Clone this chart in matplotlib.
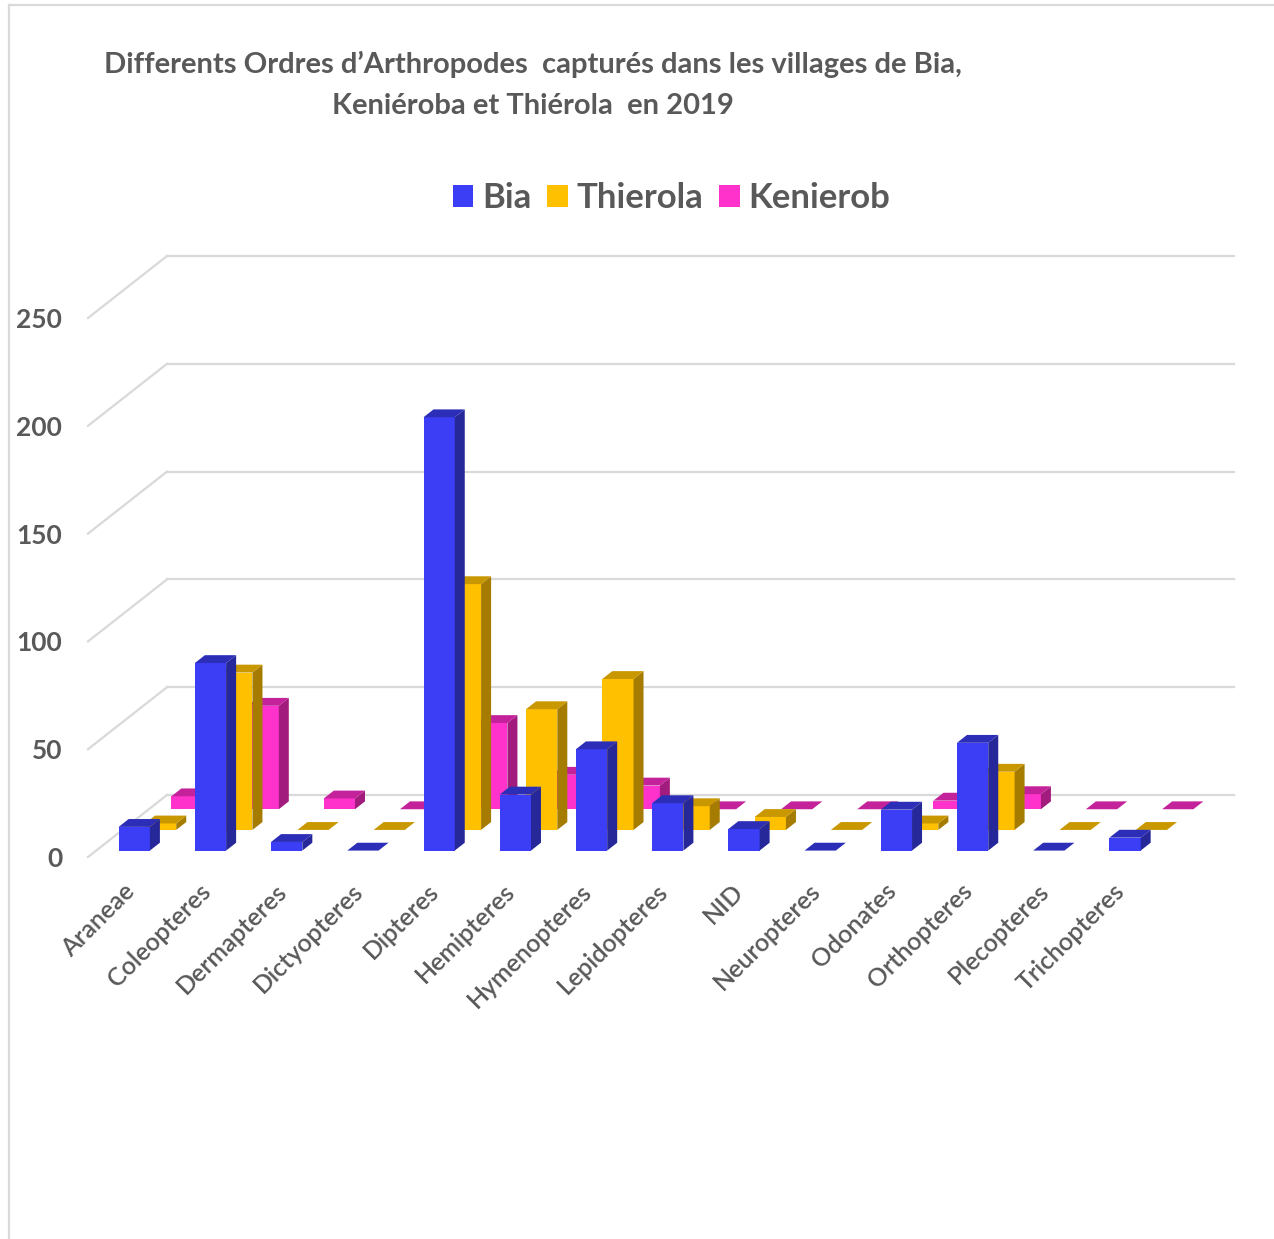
"""Arthropod orders captured in Bia, Kenieroba and Thierola (2019), Excel-style 3D columns."""
import matplotlib
matplotlib.use("Agg")
import matplotlib.pyplot as plt
from matplotlib.lines import Line2D
from matplotlib.patches import Patch, Polygon

plt.rcParams["font.family"] = ["Lato", "DejaVu Sans"]

categories = ["Araneae", "Coleopteres", "Dermapteres", "Dictyopteres", "Dipteres",
              "Hemipteres", "Hymenopteres", "Lepidopteres", "NID", "Neuropteres",
              "Odonates", "Orthopteres", "Plecopteres", "Trichopteres"]
bia = [11, 87, 4, 0, 201, 26, 47, 22, 10, 0, 19, 50, 0, 6]
thierola = [3, 73, 0, 0, 114, 56, 70, 11, 6, 0, 3, 27, 0, 0]
kenierob = [6, 48, 5, 0, 40, 16, 11, 0, 0, 0, 4, 7, 0, 0]
series_names = ["Bia", "Thierola", "Kenierob"]
yticks = [0, 50, 100, 150, 200, 250]

# front, top, side colours per series
colors = {
    "Bia": ("#3b3ef5", "#2c2eb8", "#262899"),
    "Thierola": ("#ffc000", "#c99700", "#a57c00"),
    "Kenierob": ("#ff33cc", "#c4229a", "#a11c7c"),
}
text_gray = "#595959"
grid_gray = "#d9d9d9"

# oblique projection: one series row shifts the drawing right/up by (DX, DY)
DX, DY = 0.3456, 9.59
BAR_W = 0.41
D0, DD = 0.31, 0.38  # bar front position inside its row, and bar depth
n = len(categories)
nrows = len(series_names)

fig = plt.figure(figsize=(12.74, 12.39), dpi=100)
ax = fig.add_axes([88 / 1274, (1239 - 857) / 1239, 1146 / 1274, 601 / 1239])
ax.set_xlim(0, n + nrows * DX)
ax.set_ylim(0, 250 + nrows * DY)
for s in ax.spines.values():
    s.set_visible(False)

# walls: back wall horizontal gridlines and left wall diagonals
for v in yticks:
    ax.plot([nrows * DX, n + nrows * DX], [v + nrows * DY] * 2,
            color=grid_gray, lw=1.6, zorder=1, clip_on=False)
    ax.plot([0, nrows * DX], [v, v + nrows * DY],
            color=grid_gray, lw=1.6, zorder=1, clip_on=False)

# draw back row first so the front rows cover it
values = {"Bia": bia, "Thierola": thierola, "Kenierob": kenierob}
for k in reversed(range(nrows)):
    name = series_names[k]
    front, top, side = colors[name]
    z = 10 + (nrows - k) * 3
    d = k + D0
    for i, h in enumerate(values[name]):
        xl = i + 0.5 - BAR_W / 2 + d * DX
        xr = xl + BAR_W
        y0 = d * DY
        y1 = y0 + h
        ox, oy = DD * DX, DD * DY
        if h > 0:
            ax.bar(xl, h, BAR_W, bottom=y0, align="edge", color=front,
                   linewidth=0, zorder=z, clip_on=False)
            ax.add_patch(Polygon([(xr, y0), (xr + ox, y0 + oy), (xr + ox, y1 + oy), (xr, y1)],
                                 closed=True, facecolor=side, lw=0, zorder=z, clip_on=False))
        ax.add_patch(Polygon([(xl, y1), (xr, y1), (xr + ox, y1 + oy), (xl + ox, y1 + oy)],
                             closed=True, facecolor=top, lw=0, zorder=z + 1, clip_on=False))

ax.set_yticks(yticks)
ax.set_yticklabels([str(v) for v in yticks], fontsize=19, fontweight="bold", color=text_gray)
ax.tick_params(axis="y", length=0, pad=18.5)
ax.set_xticks([i + 0.45 for i in range(n)])
ax.set_xticklabels(categories, rotation=45, ha="right", va="top",
                   rotation_mode="anchor", fontsize=18, fontweight="semibold", color=text_gray)
ax.tick_params(axis="x", length=0, pad=16)

fig.text(0.418, 1 - 85 / 1239,
         "Differents Ordres d\u2019Arthropodes  capturés dans les villages de Bia,\n"
         "Keniéroba et Thiérola  en 2019",
         ha="center", va="center", fontsize=21, fontweight="bold", color=text_gray,
         linespacing=1.7)

handles = [Patch(facecolor=colors[s][0], edgecolor="none") for s in series_names]
leg = fig.legend(handles, series_names, loc="center", bbox_to_anchor=(0.527, 1 - 198 / 1239),
                 ncol=3, frameon=False, fontsize=25, handlelength=0.6, handleheight=0.6,
                 handletextpad=0.25, columnspacing=0.45)
for t in leg.get_texts():
    t.set_color(text_gray)
    t.set_fontweight("bold")

# chart area border (only left and top edges are visible in the source)
fig.add_artist(Line2D([8.5 / 1274, 8.5 / 1274], [0, 1 - 5 / 1239], color=grid_gray, lw=1.6))
fig.add_artist(Line2D([8.5 / 1274, 1], [1 - 5 / 1239, 1 - 5 / 1239], color=grid_gray, lw=1.6))

fig.savefig("out.png", dpi=100, facecolor="white")
